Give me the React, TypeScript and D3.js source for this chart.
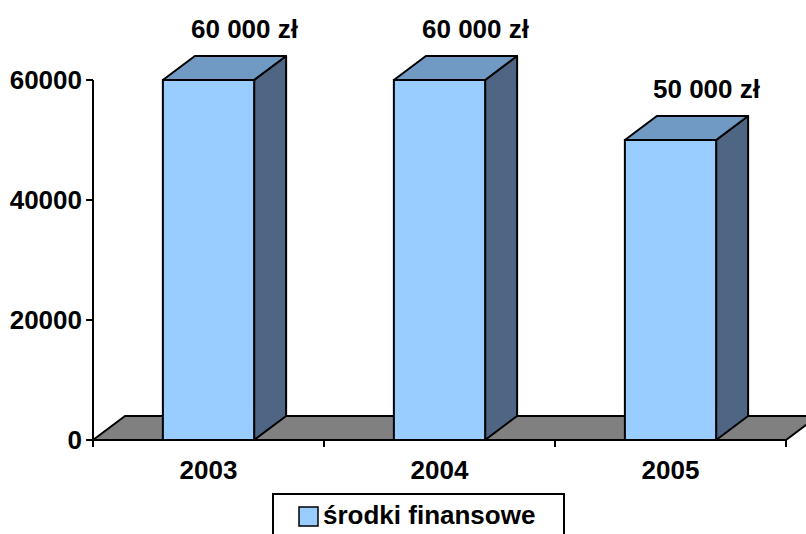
import React from "react";
import * as d3 from "d3";

const categories = ["2003", "2004", "2005"];
const values = [60000, 60000, 50000];
const valueLabels = ["60 000 zł", "60 000 zł", "50 000 zł"];
const yTicks = [0, 20000, 40000, 60000];
const seriesName = "środki finansowe";

const W = 806;
const H = 534;
const DX = 32;
const DY = 24;
const FONT = "'Liberation Sans', Arial, sans-serif";
const FS = 26;

export default function App() {
  const x0 = 93;
  const x1 = 786;
  const x = d3.scaleBand<string>().domain(categories).range([x0, x1]).paddingInner(0).paddingOuter(0);
  const y = d3.scaleLinear().domain([0, 60000]).range([440, 80]);
  const bw = x.bandwidth() * 0.395;
  const yb = y(0);

  const floor = [
    [x0, yb],
    [x0 + DX, yb - DY],
    [x1 + DX, yb - DY],
    [x1, yb],
  ];
  const pts = (p: number[][]) => p.map((q) => q.join(",")).join(" ");

  const boundaries = [x0, ...categories.map((c) => (x(c) as number) + x.bandwidth())];

  return (
    <svg width={W} height={H} style={{ position: "absolute", left: 0, top: 0, display: "block" }}>
      <rect x={0} y={0} width={W} height={H} fill="#fff" />
      <polygon points={pts(floor)} fill="#808080" stroke="#000" strokeWidth={2} strokeLinejoin="round" />
      {/* y axis */}
      <line x1={x0} y1={y(60000)} x2={x0} y2={yb} stroke="#000" strokeWidth={2} />
      {yTicks.map((t) => (
        <g key={t}>
          <line x1={x0 - 7} y1={y(t)} x2={x0} y2={y(t)} stroke="#000" strokeWidth={2} />
          <text x={82} y={y(t) + 9} textAnchor="end" fontFamily={FONT} fontWeight="bold" fontSize={FS} fill="#000">
            {t}
          </text>
        </g>
      ))}
      {/* x ticks */}
      {boundaries.map((b, i) => (
        <line key={i} x1={b} y1={yb} x2={b} y2={yb + 7} stroke="#000" strokeWidth={2} />
      ))}
      {categories.map((c) => (
        <text
          key={c}
          x={(x(c) as number) + x.bandwidth() / 2}
          y={479}
          textAnchor="middle"
          fontFamily={FONT}
          fontWeight="bold"
          fontSize={FS}
          fill="#000"
        >
          {c}
        </text>
      ))}
      {/* bars */}
      {categories.map((c, i) => {
        const cx = (x(c) as number) + x.bandwidth() / 2;
        const xl = cx - bw / 2;
        const xr = cx + bw / 2;
        const yt = y(values[i]);
        const side = [
          [xr, yt],
          [xr + DX, yt - DY],
          [xr + DX, yb - DY],
          [xr, yb],
        ];
        const top = [
          [xl, yt],
          [xl + DX, yt - DY],
          [xr + DX, yt - DY],
          [xr, yt],
        ];
        return (
          <g key={c}>
            <polygon points={pts(side)} fill="#4F6584" stroke="#000" strokeWidth={2} strokeLinejoin="round" />
            <polygon points={pts(top)} fill="#7099C4" stroke="#000" strokeWidth={2} strokeLinejoin="round" />
            <rect x={xl} y={yt} width={bw} height={yb - yt} fill="#99CCFF" stroke="#000" strokeWidth={2} />
            <text
              x={cx + 36}
              y={yt - 42}
              textAnchor="middle"
              fontFamily={FONT}
              fontWeight="bold"
              fontSize={FS}
              fill="#000"
            >
              {valueLabels[i]}
            </text>
          </g>
        );
      })}
      {/* legend */}
      <rect x={273} y={494} width={291} height={60} fill="#fff" stroke="#000" strokeWidth={2} />
      <rect x={299} y={507} width={19} height={19} fill="#99CCFF" stroke="#000" strokeWidth={1.5} />
      <text x={323} y={524} fontFamily={FONT} fontWeight="bold" fontSize={FS} fill="#000">
        {seriesName}
      </text>
    </svg>
  );
}
